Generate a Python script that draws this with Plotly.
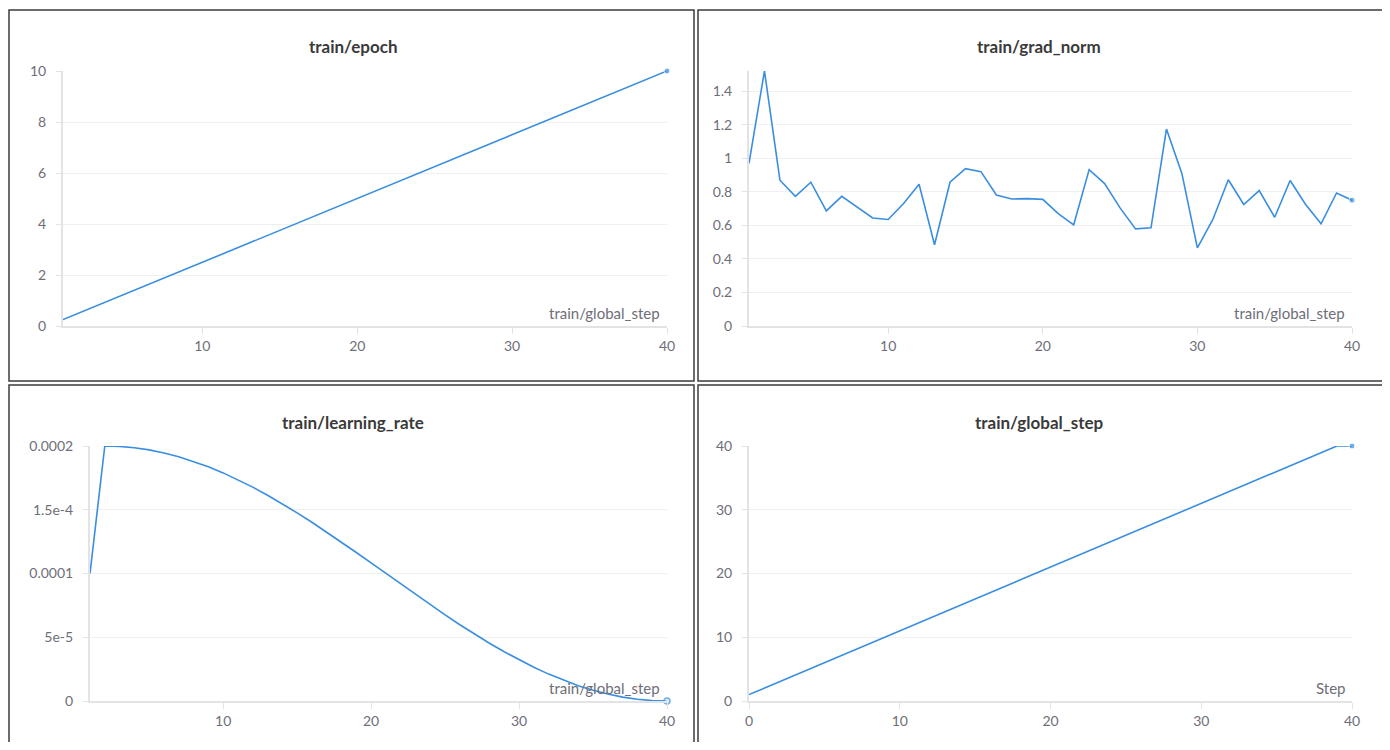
import plotly.graph_objects as go

# ---------------- data ----------------
train_steps = [1, 2, 3, 4, 5, 6, 7, 8, 9, 10, 11, 12, 13, 14, 15, 16, 17, 18, 19, 20,
               21, 22, 23, 24, 25, 26, 27, 28, 29, 30, 31, 32, 33, 34, 35, 36, 37, 38, 39, 40]

epoch_values = [0.25, 0.5, 0.75, 1.0, 1.25, 1.5, 1.75, 2.0, 2.25, 2.5,
                2.75, 3.0, 3.25, 3.5, 3.75, 4.0, 4.25, 4.5, 4.75, 5.0,
                5.25, 5.5, 5.75, 6.0, 6.25, 6.5, 6.75, 7.0, 7.25, 7.5,
                7.75, 8.0, 8.25, 8.5, 8.75, 9.0, 9.25, 9.5, 9.75, 10.0]

grad_norm_values = [0.97, 1.52, 0.869, 0.773, 0.857, 0.686, 0.773, 0.71, 0.644, 0.635,
                    0.73, 0.845, 0.484, 0.857, 0.938, 0.92, 0.781, 0.757, 0.759, 0.755,
                    0.67, 0.603, 0.932, 0.849, 0.704, 0.579, 0.585, 1.174, 0.908, 0.466,
                    0.635, 0.872, 0.724, 0.807, 0.648, 0.867, 0.724, 0.609, 0.793, 0.75]

learning_rate_values = [1.0e-4, 2.0e-4, 1.9966e-4, 1.9864e-4, 1.9694e-4, 1.9458e-4, 1.9158e-4,
                        1.8795e-4, 1.8372e-4, 1.7891e-4, 1.7357e-4, 1.6773e-4, 1.6142e-4,
                        1.5469e-4, 1.4759e-4, 1.4017e-4, 1.3247e-4, 1.2455e-4, 1.1646e-4,
                        1.0826e-4, 1.0e-4, 0.9174e-4, 0.8354e-4, 0.7545e-4, 0.6753e-4,
                        0.5983e-4, 0.5241e-4, 0.4531e-4, 0.3858e-4, 0.3227e-4, 0.2643e-4,
                        0.2109e-4, 0.1628e-4, 0.1205e-4, 0.0842e-4, 0.0542e-4, 0.0306e-4,
                        0.0136e-4, 0.0034e-4, 0.0]

wandb_steps = [0, 1, 2, 3, 4, 5, 6, 7, 8, 9, 10, 11, 12, 13, 14, 15, 16, 17, 18, 19, 20,
               21, 22, 23, 24, 25, 26, 27, 28, 29, 30, 31, 32, 33, 34, 35, 36, 37, 38, 39, 40]
global_step_values = [1, 2, 3, 4, 5, 6, 7, 8, 9, 10, 11, 12, 13, 14, 15, 16, 17, 18, 19, 20,
                      21, 22, 23, 24, 25, 26, 27, 28, 29, 30, 31, 32, 33, 34, 35, 36, 37, 38, 39, 40, 40]

panel_titles = ["train/epoch", "train/grad_norm", "train/learning_rate", "train/global_step"]
x_titles = ["train/global_step", "train/global_step", "train/global_step", "Step"]

lr_tickvals = [0, 5e-5, 1e-4, 1.5e-4, 2e-4]
lr_ticktext = ["0", "5e-5", "0.0001", "1.5e-4", "0.0002"]

# ---------------- style ----------------
PAGE_MARGIN = 8            # default body margin of the page
W, H = 1390 - 2 * PAGE_MARGIN, 750 - 2 * PAGE_MARGIN
LINE = "#3a8ee0"
TICK_COL = "#6e6e78"
TITLE_COL = "#3a3a3a"
GRID = "#f0f0f2"
AXLINE = "#e3e3e6"
FONT = "Lato"


def px_x(p):
    return (p - PAGE_MARGIN) / W


def px_y(p):
    return 1 - (p - PAGE_MARGIN) / H


fig = go.Figure()


def last_marker_sizes(n, size):
    return [0] * (n - 1) + [size]


domains = {
    1: ([px_x(63), px_x(667)], [px_y(326), px_y(71)]),
    2: ([px_x(749), px_x(1352)], [px_y(326), px_y(71)]),
    3: ([px_x(90), px_x(667)], [px_y(701), px_y(446)]),
    4: ([px_x(749), px_x(1352)], [px_y(701), px_y(446)]),
}

series = [
    (train_steps, epoch_values),
    (train_steps, grad_norm_values),
    (train_steps, learning_rate_values),
    (wandb_steps, global_step_values),
]

for i, (xs, ys) in enumerate(series, start=1):
    xa = "x" if i == 1 else f"x{i}"
    ya = "y" if i == 1 else f"y{i}"
    marker = dict(size=last_marker_sizes(len(xs), 6), color=LINE)
    if i == 3:
        marker = dict(size=last_marker_sizes(len(xs), 6), color="#cfe3f8",
                      line=dict(color=LINE, width=1.5))
    fig.add_trace(go.Scatter(
        x=xs, y=ys, mode="lines+markers", xaxis=xa, yaxis=ya,
        line=dict(color=LINE, width=1.6), marker=marker,
        cliponaxis=False, showlegend=False, hoverinfo="skip",
    ))

axis_common = dict(
    showgrid=False, zeroline=False, showline=True, linecolor=AXLINE, linewidth=2,
    ticks="outside", ticklen=6, tickcolor=AXLINE, tickwidth=1, automargin=False,
    tickfont=dict(family=FONT, size=14, color=TICK_COL),
)
yaxis_common = dict(
    showgrid=True, gridcolor=GRID, gridwidth=1, zeroline=False, showline=True,
    linecolor=AXLINE, linewidth=2, ticks="outside", ticklen=5, tickcolor=AXLINE,
    automargin=False,
    tickfont=dict(family=FONT, size=14, color=TICK_COL), ticklabelstandoff=7,
)

x_ranges = {1: [1, 40], 2: [1, 40], 3: [1, 40], 4: [0, 40]}
y_ranges = {1: [0, 10], 2: [0, 1.52], 3: [0, 2e-4], 4: [0, 40]}

layout_axes = {}
for i in range(1, 5):
    xname = "xaxis" if i == 1 else f"xaxis{i}"
    yname = "yaxis" if i == 1 else f"yaxis{i}"
    anchor_x = "y" if i == 1 else f"y{i}"
    anchor_y = "x" if i == 1 else f"x{i}"
    xd, yd = domains[i]
    xa = dict(axis_common, domain=xd, anchor=anchor_x, range=x_ranges[i],
              tickvals=[0, 10, 20, 30, 40] if i == 4 else [10, 20, 30, 40])
    ya = dict(yaxis_common, domain=yd, anchor=anchor_y, range=y_ranges[i])
    if i == 1:
        ya["tickvals"] = [0, 2, 4, 6, 8, 10]
    elif i == 2:
        ya["tickvals"] = [0, 0.2, 0.4, 0.6, 0.8, 1.0, 1.2, 1.4]
    elif i == 3:
        ya["tickvals"] = lr_tickvals
        ya["ticktext"] = lr_ticktext
    else:
        ya["tickvals"] = [0, 10, 20, 30, 40]
    layout_axes[xname] = xa
    layout_axes[yname] = ya

fig.update_layout(**layout_axes)

title_centers = [(px_x(353), px_y(47)), (px_x(1039), px_y(47)),
                 (px_x(353), px_y(422)), (px_x(1039), px_y(422))]
annotations = []
for i, (t, (cx, cy)) in enumerate(zip(panel_titles, title_centers), start=1):
    annotations.append(dict(
        text=f"<b>{t}</b>", x=cx, y=cy, xref="paper", yref="paper",
        xanchor="center", yanchor="middle", showarrow=False,
        font=dict(family=FONT, size=17, color=TITLE_COL),
    ))
for i, t in enumerate(x_titles, start=1):
    xr = "x domain" if i == 1 else f"x{i} domain"
    yr = "y domain" if i == 1 else f"y{i} domain"
    annotations.append(dict(
        text=t, x=1, y=0, xref=xr, yref=yr, xanchor="right", yanchor="bottom",
        xshift=-5, yshift=2, showarrow=False,
        font=dict(family=FONT, size=15, color=TICK_COL),
    ))

panel_boxes = [(9, 10, 694, 381), (698, 10, 1384, 381),
               (9, 385, 694, 760), (698, 385, 1384, 760)]
shapes = []
for (x0, y0, x1, y1) in panel_boxes:
    shapes.append(dict(type="rect", xref="paper", yref="paper",
                       x0=px_x(x0), x1=px_x(x1), y0=px_y(y1), y1=px_y(y0),
                       line=dict(color="#3c3c3c", width=1.5), fillcolor="rgba(0,0,0,0)",
                       layer="above"))

fig.update_layout(
    width=W, height=H, margin=dict(l=0, r=0, t=0, b=0, pad=0, autoexpand=False),
    paper_bgcolor="white", plot_bgcolor="white",
    annotations=annotations, shapes=shapes,
    font=dict(family=FONT),
)

fig.write_html("out.html", config={"displayModeBar": False})
